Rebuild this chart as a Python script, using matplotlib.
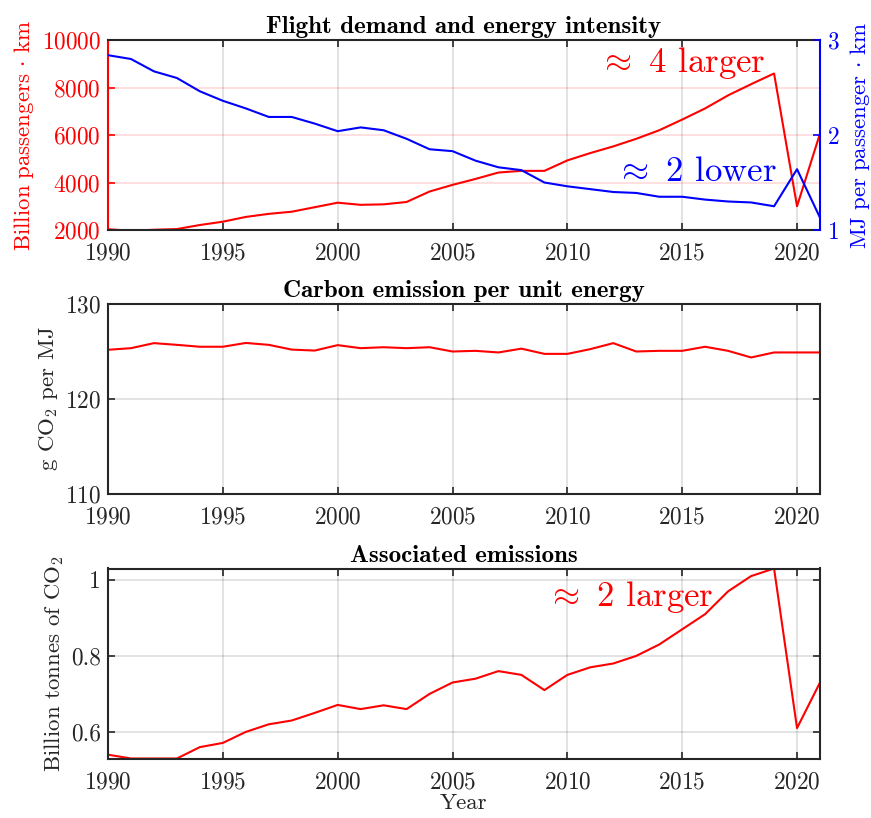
import matplotlib
matplotlib.use("Agg")
import matplotlib.pyplot as plt
import numpy as np

plt.rcParams['font.family'] = 'serif'
plt.rcParams['font.serif'] = ['cmr10']
plt.rcParams['mathtext.fontset'] = 'cm'
plt.rcParams['axes.formatter.use_mathtext'] = True
plt.rcParams['axes.unicode_minus'] = False

years = list(range(1990, 2022))
pkm = [2030, 1970, 2010, 2040, 2210, 2350, 2550, 2680, 2770, 2960,
       3150, 3060, 3080, 3180, 3620, 3900, 4150, 4420, 4490, 4490,
       4930, 5240, 5520, 5840, 6200, 6650, 7120, 7670, 8140, 8590,
       3000, 6060]
mj_pkm = [2.84, 2.80, 2.67, 2.60, 2.46, 2.36, 2.28, 2.19, 2.19, 2.12,
          2.04, 2.08, 2.05, 1.96, 1.85, 1.83, 1.73, 1.66, 1.63, 1.50,
          1.46, 1.43, 1.40, 1.39, 1.35, 1.35, 1.32, 1.30, 1.29, 1.25,
          1.64, 1.13]
g_co2_mj = [125.18, 125.35, 125.88, 125.7, 125.5, 125.5, 125.9, 125.7, 125.2, 125.1,
            125.67, 125.35, 125.45, 125.35, 125.45, 125.0, 125.07, 124.9, 125.3, 124.75,
            124.75, 125.25, 125.88, 125.0, 125.07, 125.07, 125.5, 125.07, 124.37, 124.9,
            124.9, 124.9]
emissions = [0.54, 0.53, 0.53, 0.53, 0.56, 0.571, 0.60, 0.62, 0.63, 0.65,
             0.671, 0.66, 0.67, 0.66, 0.70, 0.73, 0.74, 0.76, 0.75, 0.71,
             0.75, 0.77, 0.78, 0.80, 0.83, 0.87, 0.91, 0.97, 1.01, 1.03,
             0.61, 0.73]
xticks = [1990, 1995, 2000, 2005, 2010, 2015, 2020]

DARK = '#262626'
RED = '#ff0000'
BLUE = '#0000ff'
FS = 16.8
LFS = 16.5
TFS = 18
AFS = 25

fig = plt.figure(figsize=(8.71, 8.18), dpi=100)
W = 712 / 871
H = 190 / 818
L = 108 / 871
ax1 = fig.add_axes([L, 1 - 230 / 818, W, H])
ax2 = fig.add_axes([L, 1 - 494 / 818, W, H])
ax3 = fig.add_axes([L, 1 - 758.5 / 818, W, H])


def style(ax):
    ax.set_xlim(1990, 2021)
    ax.set_xticks(xticks)
    ax.tick_params(axis='both', direction='in', length=5, width=1.2, labelsize=FS,
                   top=True, right=True, colors=DARK, pad=5)
    ax.tick_params(axis='x', pad=9)
    for s in ax.spines.values():
        s.set_color(DARK)
        s.set_linewidth(1.5)
    ax.grid(True, color=DARK, alpha=0.15, linewidth=1.2)
    ax.set_axisbelow(True)


# Panel 1
style(ax1)
ax1.plot(years, pkm, color=RED, lw=1.5)
ax1.set_ylim(2000, 10000)
ax1.set_yticks([2000, 4000, 6000, 8000, 10000])
ax1.tick_params(axis='y', colors=RED, right=False)
ax1.spines['left'].set_color(RED)
ax1.spines['right'].set_visible(False)
ax1.yaxis.grid(True, color=RED, alpha=0.15, linewidth=1.2)
ax1.set_ylabel(r'$\mathrm{Billion\ passengers}\,\cdot\,\mathrm{km}$', color=RED,
               fontsize=LFS, labelpad=4)
ax1.set_title('Flight demand and energy intensity', fontfamily='cmb10', fontsize=TFS, pad=5,
              color='black')
ax1b = ax1.twinx()
ax1b.plot(years, mj_pkm, color=BLUE, lw=1.5)
ax1b.set_ylim(1, 3)
ax1b.set_yticks([1, 2, 3])
ax1b.tick_params(axis='y', direction='in', length=5, width=1.2, labelsize=FS, colors=BLUE, pad=5)
for k, s in ax1b.spines.items():
    s.set_visible(k == 'right')
ax1b.spines['right'].set_color(BLUE)
ax1b.spines['right'].set_linewidth(1.5)
ax1b.set_ylabel(r'$\mathrm{MJ\ per\ passenger}\,\cdot\,\mathrm{km}$', color=BLUE,
                fontsize=LFS, labelpad=6)
ax1.text(2015.0, 9030, r'$\approx$ 4 larger', color=RED, fontsize=AFS, ha='center', va='center')
ax1.text(2015.6, 4440, r'$\approx$ 2 lower', color=BLUE, fontsize=AFS, ha='center', va='center')

# Panel 2
style(ax2)
ax2.plot(years, g_co2_mj, color=RED, lw=1.5)
ax2.set_ylim(110, 130)
ax2.set_yticks([110, 120, 130])
ax2.set_ylabel(r'g CO$_2$ per MJ', fontsize=LFS, color=DARK)
ax2.set_title('Carbon emission per unit energy', fontfamily='cmb10', fontsize=TFS, pad=5,
              color='black')

# Panel 3
style(ax3)
ax3.plot(years, emissions, color=RED, lw=1.5)
ax3.set_ylim(0.53, 1.03)
ax3.set_yticks([0.6, 0.8, 1.0])
ax3.set_yticklabels(['0.6', '0.8', '1'])
ax3.set_ylabel(r'Billion tonnes of CO$_2$', fontsize=LFS, color=DARK)
ax3.set_xlabel('Year', fontsize=LFS, color=DARK, labelpad=0)
ax3.set_title('Associated emissions', fontfamily='cmb10', fontsize=TFS, pad=5, color='black')
ax3.text(2012.7, 0.955, r'$\approx$ 2 larger', color=RED, fontsize=AFS, ha='center', va='center')

fig.savefig('out.png', dpi=100)
